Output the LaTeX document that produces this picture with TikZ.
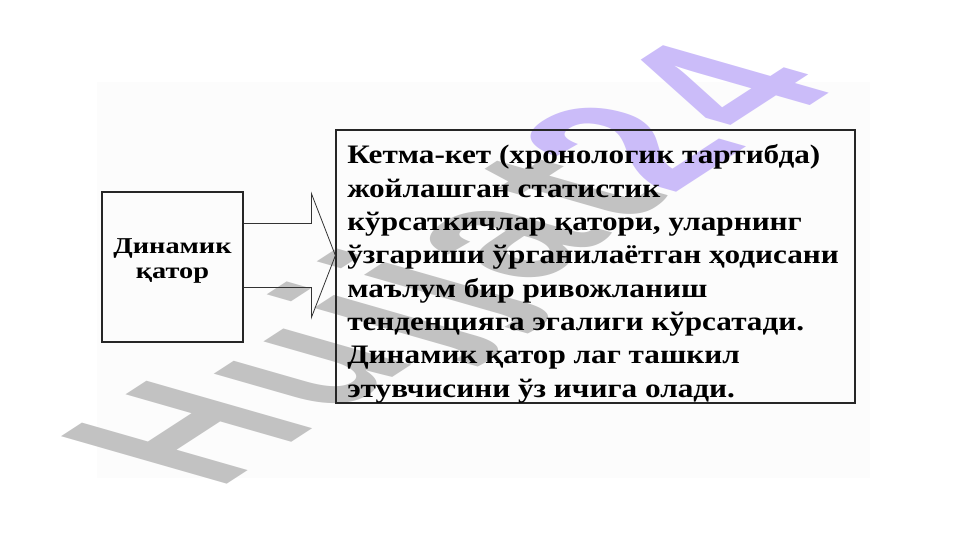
\documentclass[tikz,border=0pt]{standalone}
\usepackage{fontspec}
\setmainfont{Liberation Serif}
\newfontfamily\deffont[FakeStretch=1.17]{Liberation Serif}
\newfontfamily\dynfont[FakeStretch=1.25]{Liberation Serif}
\newfontfamily\markfont[LetterSpace=7]{Liberation Sans}
\usetikzlibrary{calc,positioning}
\definecolor{markgray}{HTML}{C2C2C2}
\definecolor{marklilac}{HTML}{CBBCF9}
\definecolor{scanbg}{HTML}{FCFCFC}
\tikzset{
  box/.style={draw=black!85, line width=0.9pt, inner sep=0pt},
  blockarrow/.style={draw=black!80, line width=0.6pt, line join=miter},
}
\begin{document}
\begin{tikzpicture}[x=0.75pt,y=-0.75pt]
	\useasboundingbox (0,0) rectangle (961,540);
	\fill[scanbg] (97,82) rectangle (870,478);
	% watermark
	\node[markgray, anchor=base west, inner sep=0pt, transform shape,
	      cm={1.090,0.708,-1.807,0.518,(0,0)},
	      font=\markfont\bfseries\fontsize{100}{100}\selectfont] (mark) at (217,491)
	      {Hujjat\textcolor{marklilac}{24}};
	% boxes
	\node[box, minimum width=105.75pt, minimum height=112.5pt] (dyn) at (172.5,267) {};
	\node[box, minimum width=389.25pt, minimum height=204.75pt] (def) at (595.5,266.5) {};
	\node[anchor=north, align=center, inner sep=0pt,
	      font=\dynfont\bfseries\fontsize{17}{18.75}\selectfont] (dyntxt) at (172.5,238)
	      {Динамик\\қатор};
	\node[anchor=north west, align=left, inner sep=0pt,
	      font=\deffont\bfseries\fontsize{20}{25}\selectfont] (deftxt) at (347,144.5)
	      {Кетма-кет (хронологик тартибда)\\
	       жойлашган статистик\\
	       кўрсаткичлар қатори, уларнинг\\
	       ўзгариши ўрганилаётган ҳодисани\\
	       маълум бир ривожланиш\\
	       тенденцияга эгалиги кўрсатади.\\
	       Динамик қатор лаг ташкил\\
	       этувчисини ўз ичига олади.};
	% arrow
	\coordinate (tip) at ($(def.west)+(0,-11)$);
	\coordinate (s1) at ($(tip)+(-24,-32)$);
	\coordinate (h1) at ($(tip)+(-24,-62)$);
	\coordinate (h2) at ($(tip)+(-24,62)$);
	\coordinate (s2) at ($(tip)+(-24,32)$);
	\draw[blockarrow] (s1 -| dyn.east) -- (s1) -- (h1) -- (tip) -- (h2) -- (s2) -- (s2 -| dyn.east);
\end{tikzpicture}
\end{document}
